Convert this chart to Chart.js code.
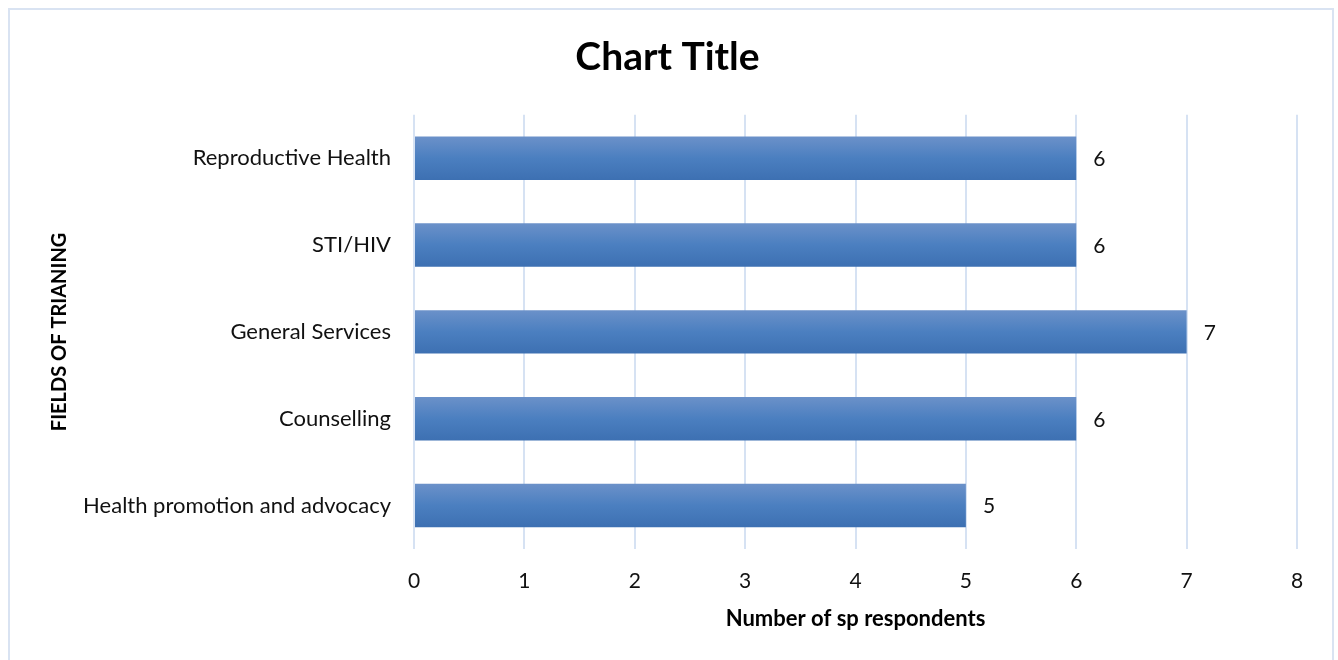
<!DOCTYPE html>
<html>
<head>
<meta charset="utf-8">
<script src="https://cdn.jsdelivr.net/npm/chart.js@4.4.0/dist/chart.umd.min.js"></script>
<style>
  html, body { margin: 0; padding: 0; background: #fff; }
  #wrap { width: 1338px; height: 660px; }
</style>
</head>
<body>
<div id="wrap"><canvas id="chart" width="1338" height="660"></canvas></div>
<script>
const categories = [
  'Reproductive Health',
  'STI/HIV',
  'General Services',
  'Counselling',
  'Health promotion and advocacy'
];
const respondents = [6, 6, 7, 6, 5];
const xTicks = [0, 1, 2, 3, 4, 5, 6, 7, 8];

const FONT = 'Lato, "Open Sans", sans-serif';
const CAT_PCT = 0.5;

// vertical shading inside each bar (scriptable so every bar gets its own)
function barFill(context) {
  const chart = context.chart;
  if (!chart.chartArea) return '#4a7ebf';
  const yScale = chart.scales.y;
  const band = (yScale.bottom - yScale.top) / categories.length;
  const h = band * CAT_PCT;
  const top = yScale.getPixelForValue(context.dataIndex) - h / 2;
  const g = chart.ctx.createLinearGradient(0, top, 0, top + h);
  g.addColorStop(0, '#6b91c9');
  g.addColorStop(0.5, '#4b7fc0');
  g.addColorStop(1, '#3d70b2');
  return g;
}

const valueLabels = {
  id: 'valueLabels',
  afterDatasetsDraw(chart) {
    const ctx = chart.ctx;
    ctx.save();
    ctx.font = '21px ' + FONT;
    ctx.fillStyle = '#111';
    ctx.textBaseline = 'middle';
    chart.getDatasetMeta(0).data.forEach((bar, i) => {
      ctx.fillText(respondents[i], bar.x + 17, bar.y + 1);
    });
    ctx.restore();
  }
};

const frame = {
  id: 'frame',
  afterDraw(chart) {
    const ctx = chart.ctx;
    ctx.save();
    ctx.strokeStyle = '#d9e3f2';
    ctx.lineWidth = 2;
    ctx.strokeRect(9, 9, 1324, 660);
    ctx.restore();
  }
};

new Chart(document.getElementById('chart'), {
  type: 'bar',
  data: {
    labels: categories,
    datasets: [{
      data: respondents,
      backgroundColor: barFill,
      categoryPercentage: CAT_PCT,
      barPercentage: 1.0
    }]
  },
  options: {
    indexAxis: 'y',
    responsive: false,
    animation: false,
    layout: { padding: { top: 18, left: 38, right: 41, bottom: 28 } },
    plugins: {
      legend: { display: false },
      tooltip: { enabled: false },
      title: {
        display: true,
        text: 'Chart Title',
        color: '#000',
        font: { family: FONT, size: 39, weight: 'bold' },
        padding: { top: 16, bottom: 34 }
      }
    },
    scales: {
      x: {
        min: 0,
        max: 8,
        afterBuildTicks(axis) { axis.ticks = xTicks.map(v => ({ value: v })); },
        afterFit(axis) { axis.height = 83; },
        grid: { color: '#d6e2f3', lineWidth: 2, drawTicks: false },
        border: { display: false },
        ticks: { color: '#111', font: { family: FONT, size: 21 }, padding: 20 },
        title: {
          display: true,
          text: 'Number of sp respondents',
          color: '#000',
          font: { family: FONT, size: 22, weight: 'bold' },
          padding: { top: 10, bottom: 0 }
        }
      },
      y: {
        afterFit(axis) { axis.width = 414 - 38; },
        grid: { display: false, drawTicks: false },
        border: { display: false },
        ticks: { color: '#111', font: { family: FONT, size: 22 }, padding: 23 },
        title: {
          display: true,
          text: 'FIELDS OF TRIANING',
          color: '#000',
          font: { family: FONT, size: 20, weight: 'bold' },
          padding: { top: 10, bottom: 0 }
        }
      }
    }
  },
  plugins: [valueLabels, frame]
});
</script>
</body>
</html>
